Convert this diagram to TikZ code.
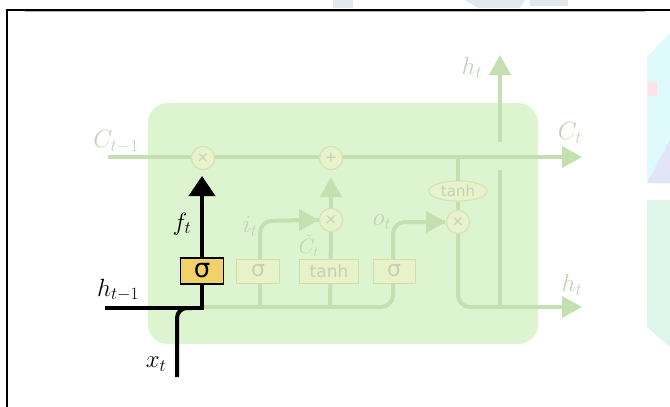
\documentclass[tikz,border=0pt]{standalone}
\usepackage{fontspec}
\newfontfamily\djv{DejaVu Sans}
\usetikzlibrary{arrows.meta,shapes.geometric}
\definecolor{boxfill}{RGB}{221,244,208}
\definecolor{fl}{RGB}{196,224,178}
\definecolor{fcircfill}{RGB}{232,242,205}
\definecolor{fcircdraw}{RGB}{212,228,182}
\definecolor{fboxfill}{RGB}{232,242,200}
\definecolor{fboxdraw}{RGB}{212,220,168}
\definecolor{ftext}{RGB}{194,210,184}
\definecolor{sigyel}{RGB}{240,210,104}
\definecolor{wmcyan}{RGB}{222,250,250}
\definecolor{wmlav}{RGB}{226,228,248}
\definecolor{wmgreen}{RGB}{222,246,234}
\definecolor{wmpink}{RGB}{250,226,230}
\definecolor{wmgrey}{RGB}{226,232,236}
\tikzset{
  fline/.style={draw=fl, line width=4pt},
  ftip/.style={-{Triangle[length=20pt,width=21pt]}},
  btip/.style={-{Triangle[length=20pt,width=26pt]}},
  fcirc/.style={circle, minimum size=23pt, inner sep=0pt, fill=fcircfill, draw=fcircdraw, line width=1pt, text=ftext, font=\djv\fontsize{15}{15}\selectfont},
  fbox/.style={rectangle, minimum height=24pt, inner sep=0pt, fill=fboxfill, draw=fboxdraw, line width=1pt, text=ftext, font=\djv\fontsize{17}{17}\selectfont},
  fell/.style={ellipse, minimum width=58pt, minimum height=20pt, inner sep=0pt, fill=fcircfill, draw=fcircdraw, line width=1pt, text=ftext, font=\djv\fontsize{15}{15}\selectfont},
  flabel/.style={text=ftext, font=\fontsize{24}{24}\selectfont, inner sep=0pt},
  blabel/.style={text=black, font=\fontsize{24}{24}\selectfont, inner sep=0pt},
  bline/.style={draw=black, line width=4.5pt},
  ybox/.style={rectangle, minimum width=43pt, minimum height=26pt, inner sep=0pt, fill=sigyel, draw=black, line width=1.5pt, font=\djv\fontsize{26}{26}\selectfont}
}
\begin{document}
\begin{tikzpicture}[x=1pt,y=-1pt]
\useasboundingbox (0,0) rectangle (670,407);
% watermark remnants
\fill[wmcyan] (647,57) -- (670,33) -- (670,183) -- (647,183) -- cycle;
\fill[wmlav] (647,183) -- (670,140) -- (670,183) -- cycle;
\fill[wmpink] (648,82) rectangle (657,96);
\fill[wmgreen] (647,200) -- (670,200) -- (670,347) -- (647,327) -- cycle;
\fill[wmgrey] (333,0) rectangle (353,8);
\fill[wmgrey] (465,0) -- (478,8) -- (520,8) -- (525,0) -- cycle;
\fill[wmgrey] (530,0) rectangle (568,6);
% frame
\draw[gray!60, line width=1pt] (25,11.5) -- (645,11.5);
\draw[black, line width=2.5pt] (7,407) -- (7,10) -- (670,10);
% cell body
\fill[boxfill, rounded corners=20pt] (148,103) rectangle (538,344);
% coordinates
\coordinate (cin) at (108,157);
\coordinate (cout) at (582,157);
\coordinate (htopa) at (500,142);
\coordinate (htopb) at (500,55);
\coordinate (hva) at (500,170);
\coordinate (hvb) at (500,307);
\coordinate (hout) at (582,307);
\coordinate (bl) at (202,307);
\coordinate (ocorner) at (393,307);
\coordinate (ocorner2) at (393,222);
\coordinate (iin) at (260,307);
\coordinate (icorner) at (260,221);
\coordinate (gin) at (330,307);
\coordinate (ptip) at (331,177);
\coordinate (ctap) at (458,157);
\coordinate (rcorner) at (458,307);
% faint lines
\draw[fline, ftip] (cin) -- (cout);
\draw[fline, ftip] (htopa) -- (htopb);
\draw[fline] (hva) -- (hvb);
\node[fcirc] (m1) at (203,158) {×};
\node[fcirc] (p1) at (331,158) {+};
\node[fcirc] (m2) at (331,220) {×};
\node[fcirc] (m3) at (458,222) {×};
\node[fell] (th) at (458,191) {tanh};
\draw[fline, rounded corners=12pt] (bl) -- (ocorner) -- (ocorner2) -- ([xshift=-1pt]m3.west);
\draw[fline, ftip] ([xshift=-30pt]m3.west) -- (m3.west);
\draw[fline, rounded corners=12pt] (iin) -- (icorner) -- (m2.west);
\draw[fline, ftip] ([xshift=-25pt]m2.west) -- (m2.west);
\draw[fline] (gin) -- (m2.south);
\draw[fline, ftip] (m2.north) -- (ptip);
\draw[fline] (ctap) -- (th.north);
\draw[fline] (th.south) -- (m3.north);
\draw[fline, rounded corners=12pt, ftip] (m3.south) -- (rcorner) -- (hout);
% redraw circles above lines
\node[fcirc] at (203,158) {×};
\node[fcirc] at (331,158) {+};
\node[fcirc] at (331,220) {×};
\node[fcirc] at (458,222) {×};
\node[fell] at (458,191) {tanh};
% faint boxes
\node[fbox, minimum width=43pt, font=\djv\fontsize{22}{22}\selectfont] (si) at (258,271) {σ};
\node[fbox, minimum width=59pt] (tb) at (329,271) {tanh};
\node[fbox, minimum width=42pt, font=\djv\fontsize{22}{22}\selectfont] (so) at (394,271) {σ};
% faint labels
\node[flabel] (lc0) at (116,142) {$C_{t-1}$};
\node[flabel] (lc1) at (570,133) {$C_t$};
\node[flabel] (lht) at (472,68) {$h_t$};
\node[flabel] (lhr) at (572,285) {$h_t$};
\node[flabel] (lit) at (250,226) {$i_t$};
\node[flabel, font=\fontsize{21}{21}\selectfont] (lct) at (309,246) {$\tilde{C}_t$};
\node[flabel] (lot) at (382,222) {$o_t$};
% highlighted forget gate
\coordinate (hin) at (105,308);
\coordinate (hj) at (202,308);
\coordinate (xin) at (177,377);
\coordinate (xj) at (192,308);
\coordinate (ftop) at (202,176);
\node[ybox] (fg) at (202,271) {σ};
\draw[bline] (hin) -- (hj) -- (fg.south);
\draw[black, line width=4pt, rounded corners=10pt] (xin) -- (177,308) -- (xj);
\draw[black, line width=4pt, btip] (fg.north) -- (ftop);
\node[ybox] at (202,271) {σ};
% black labels
\node[blabel] (lh) at (118,290) {$h_{t-1}$};
\node[blabel] (lf) at (182,224) {$f_t$};
\node[blabel] (lx) at (156,364) {$x_t$};
\end{tikzpicture}
\end{document}
